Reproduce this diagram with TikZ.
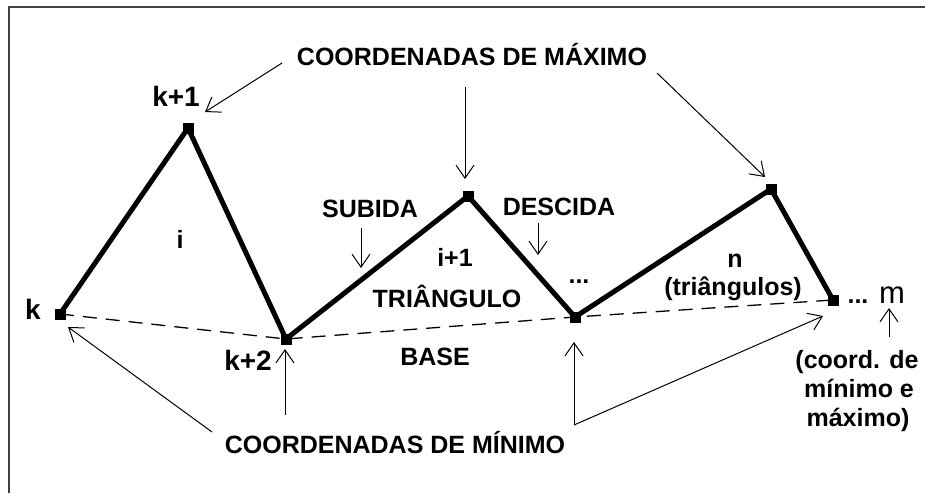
\documentclass[tikz,border=0pt]{standalone}
\usepackage{fontspec}
\setmainfont{Liberation Sans}
\usetikzlibrary{arrows.meta}
\begin{document}
\begin{tikzpicture}[x=1pt,y=-1pt,
  vtx/.style={fill=black,minimum size=11pt,inner sep=0pt,outer sep=0pt},
  lbl/.style={font=\fontsize{25}{30}\selectfont\bfseries,inner sep=0pt,anchor=base},
  big/.style={font=\fontsize{28}{32}\selectfont\bfseries,inner sep=0pt,anchor=base},
  mlbl/.style={font=\fontsize{31}{34}\selectfont,inner sep=0pt,anchor=base},
  edgeline/.style={line width=5pt,line join=round},
  basel/.style={dash pattern=on 14pt off 9pt,line width=1.3pt},
  ptr/.style={line width=1pt,-{Straight Barb[length=13pt,width=18pt,line width=1pt]}},
  frameline/.style={line width=2pt,draw=black!75}]
\useasboundingbox (0,0) rectangle (925,493);
\draw[frameline] (9,493) -- (9,7) -- (925,7);

% vertices
\node[vtx] (k)  at (60,314) {};
\node[vtx] (k1) at (188,128) {};
\node[vtx] (k2) at (286,339) {};
\node[vtx] (p2) at (468,196) {};
\node[vtx] (v3) at (575,317) {};
\node[vtx] (pn) at (771,189) {};
\node[vtx] (e)  at (833,300) {};

% triangles
\draw[edgeline] (k.center) -- (k1.center) -- (k2.center) -- (p2.center) -- (v3.center) -- (pn.center) -- (e.center);
% base
\draw[basel] (k.center) -- (k2.center) -- (v3.center) -- (e.center);

% labels
\node[lbl] (tmax) at (472,65) {COORDENADAS DE MÁXIMO};
\node[lbl] (tmin) at (395,453) {COORDENADAS DE MÍNIMO};
\node[big] (lk)  at (33,319) {k};
\node[big] (lk1) at (176,106) {k+1};
\node[big] (lk2) at (248,370) {k+2};
\node[lbl] (li)  at (180,248) {i};
\node[lbl] (lsub) at (370,217) {SUBIDA};
\node[lbl] (ldes) at (559,215) {DESCIDA};
\node[lbl] (li1) at (455,266) {i+1};
\node[lbl] (ltri) at (447,307) {TRIÂNGULO};
\node[lbl] (lbase) at (435,365) {BASE};
\node[lbl] (ldots) at (579,283) {...};
\node[lbl] (ln) at (735,267) {n};
\node[lbl] (ltris) at (733,295) {(triângulos)};
\node[lbl] (ledots) at (858,303) {...};
\node[mlbl] (lm) at (892,303) {m};
\node[lbl] (c1) at (857,368) {(coord. de};
\node[lbl] (c2) at (859,397) {mínimo e};
\node[lbl] (c3) at (858,426) {máximo)};

% pointer coordinates
\coordinate (a1t) at (282,63);  \coordinate (a1h) at (205,112);
\coordinate (a2t) at (465,87);  \coordinate (a2h) at (465,179);
\coordinate (a3t) at (657,73);  \coordinate (a3h) at (765,177);
\coordinate (a4t) at (361,228); \coordinate (a4h) at (361,268);
\coordinate (a5t) at (538,223); \coordinate (a5h) at (538,255);
\coordinate (a6t) at (212,432); \coordinate (a6h) at (68,327);
\coordinate (a7t) at (285,415); \coordinate (a7h) at (285,349);
\coordinate (a8t) at (574,425); \coordinate (a8h) at (574,342);
\coordinate (a9h) at (823,316);
\coordinate (a10t) at (889,337); \coordinate (a10h) at (889,308);

\draw[ptr] (a1t) -- (a1h);
\draw[ptr] (a2t) -- (a2h);
\draw[ptr] (a3t) -- (a3h);
\draw[ptr] (a4t) -- (a4h);
\draw[ptr] (a5t) -- (a5h);
\draw[ptr] (a6t) -- (a6h);
\draw[ptr] (a7t) -- (a7h);
\draw[ptr] (a8t) -- (a8h);
\draw[ptr] (a8t) -- (a9h);
\draw[ptr] (a10t) -- (a10h);
\end{tikzpicture}
\end{document}
